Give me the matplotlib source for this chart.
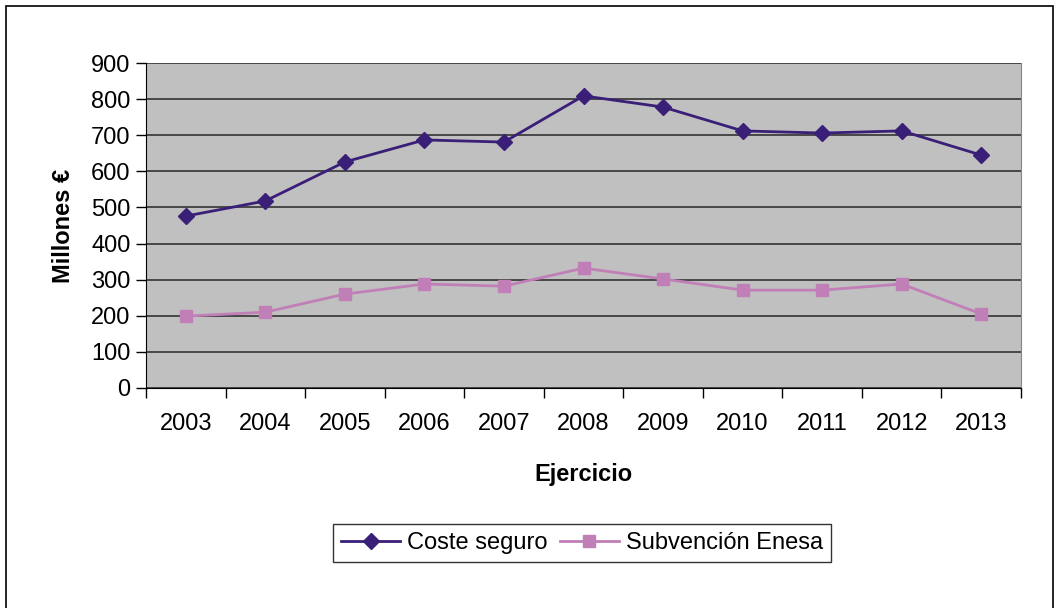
import matplotlib.pyplot as plt
from matplotlib.patches import Rectangle

plt.rcParams['font.family'] = ['Liberation Sans', 'DejaVu Sans']

anios = ['2003', '2004', '2005', '2006', '2007', '2008', '2009', '2010', '2011', '2012', '2013']
coste_seguro = [476, 518, 626, 687, 681, 809, 778, 712, 706, 712, 645]
subvencion_enesa = [199, 210, 260, 288, 282, 332, 302, 271, 271, 288, 205]

fig = plt.figure(figsize=(10.59, 6.08), dpi=100)
fig.patches.append(Rectangle((6 / 1059, -0.01), 1047 / 1059, 1 - 6 / 608 + 0.01,
                             transform=fig.transFigure, fill=False,
                             edgecolor='black', linewidth=1.2))

ax = fig.add_axes([146 / 1059, 1 - 388 / 608, 875 / 1059, 325 / 608])
ax.set_facecolor('#c0c0c0')

x = range(len(anios))
ax.plot(x, coste_seguro, color='#3a1f78', marker='D', markersize=8,
        linewidth=2, label='Coste seguro')
ax.plot(x, subvencion_enesa, color='#c07fb6', marker='s', markersize=9,
        linewidth=2, label='Subvención Enesa')

ax.set_xlim(-0.5, len(anios) - 0.5)
ax.set_ylim(0, 900)
ax.set_yticks(range(0, 901, 100))
ax.yaxis.grid(True, color='#333333', linewidth=1.2)
ax.set_axisbelow(True)

ax.set_xticks([i - 0.5 for i in range(len(anios) + 1)])
ax.set_xticklabels([])
ax.set_xticks(list(x), minor=True)
ax.set_xticklabels(anios, minor=True)
ax.tick_params(axis='x', which='major', length=7, direction='out', width=1)
ax.tick_params(axis='x', which='minor', length=0, pad=18, labelsize=17)
ax.tick_params(axis='y', length=7, width=1, labelsize=17, pad=4)

ax.spines['top'].set_visible(False)
ax.spines['right'].set_color('#888888')
ax.spines['left'].set_color('black')
ax.spines['bottom'].set_color('black')

ax.set_xlabel('Ejercicio', fontsize=17, fontweight='bold', labelpad=20)
ax.set_ylabel('Millones €', fontsize=17, fontweight='bold', labelpad=12)

fig.legend(loc='center', bbox_to_anchor=(582 / 1059, 1 - 543 / 608), ncol=2,
           fontsize=17, frameon=True, fancybox=False, edgecolor='black',
           handlelength=2.5, columnspacing=0.5, handletextpad=0.3,
           borderpad=0.35)

fig.savefig('out.png', dpi=100, facecolor='white')
